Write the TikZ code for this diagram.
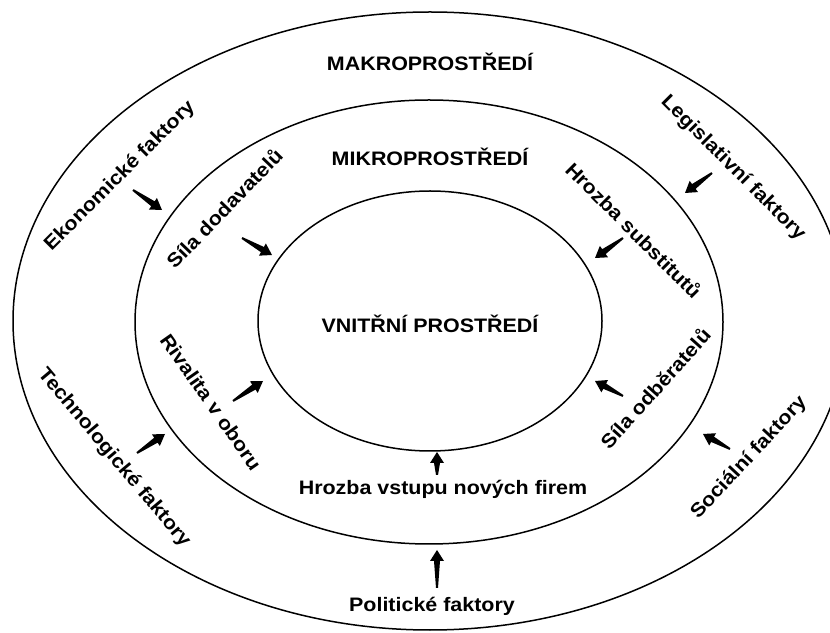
\documentclass[tikz,border=0pt]{standalone}
\usepackage{fontspec}
\setmainfont[FakeStretch=1.1]{Liberation Sans}
\usetikzlibrary{calc}
\tikzset{
  ring/.style={draw=black, line width=1.5pt},
  lbl/.style={font=\fontsize{19.5}{22}\selectfont\bfseries, inner sep=0pt, anchor=center},
}
\newcommand\tarrow[2]{%
  \path ($(#2)!11pt!(#1)$) coordinate (tb);
  \fill ($(#1)!1pt!90:(#2)$) -- ($(tb)!3pt!90:(#2)$) -- ($(tb)!7pt!90:(#2)$) -- (#2)
    -- ($(tb)!7pt!-90:(#2)$) -- ($(tb)!3pt!-90:(#2)$) -- ($(#1)!1pt!-90:(#2)$) -- cycle;}
\begin{document}
\begin{tikzpicture}[x=1pt,y=1pt]
\useasboundingbox (0,0) rectangle (830,632);
\fill[white] (0,0) rectangle (830,632);
\begin{scope}
\clip (0,0) rectangle (830,632);
\draw[ring] (430,311) ellipse [x radius=417, y radius=309];
\end{scope}
\draw[ring] (429,310) ellipse [x radius=294, y radius=222];
\draw[ring] (430,311) ellipse [x radius=172, y radius=130];

\node[lbl] (makro) at (430,570) {MAKROPROSTŘEDÍ};
\node[lbl] (mikro) at (430,475) {MIKROPROSTŘEDÍ};
\node[lbl] (vnitr) at (430,308) {VNITŘNÍ PROSTŘEDÍ};
\node[lbl] (vstup) at (443,143) {Hrozba vstupu nových firem};
\node[lbl] (polit) at (432,26) {Politické faktory};

\node[lbl, rotate=45] (ekon) at (120,456) {Ekonomické faktory};
\node[lbl, rotate=46] (dodav) at (224,424) {Síla dodavatelů};
\node[lbl, rotate=-45] (legis) at (733,464) {Legislativní faktory};
\node[lbl, rotate=-45] (subst) at (634,402) {Hrozba substitutů};
\node[lbl, rotate=-50] (tech) at (114,174) {Technologické faktory};
\node[lbl, rotate=-55] (rival) at (211,230) {Rivalita v oboru};
\node[lbl, rotate=48] (odber) at (655,244) {Síla odběratelů};
\node[lbl, rotate=47] (soc) at (749,174) {Sociální faktory};

\coordinate (a1t) at (133,442); \coordinate (a1h) at (162,422);
\coordinate (a2t) at (242,394); \coordinate (a2h) at (272,377);
\coordinate (a3t) at (712,459); \coordinate (a3h) at (685,439);
\coordinate (a4t) at (623,394); \coordinate (a4h) at (595,374);
\coordinate (a5t) at (137,179); \coordinate (a5h) at (165,198);
\coordinate (a6t) at (233,231); \coordinate (a6h) at (263,251);
\coordinate (a7t) at (623,236); \coordinate (a7h) at (595,251);
\coordinate (a8t) at (730,183); \coordinate (a8h) at (703,198);
\coordinate (a9t) at (437,157); \coordinate (a9h) at (437,180);
\coordinate (a10t) at (437,44); \coordinate (a10h) at (437,82);
\tarrow{a1t}{a1h}
\tarrow{a2t}{a2h}
\tarrow{a3t}{a3h}
\tarrow{a4t}{a4h}
\tarrow{a5t}{a5h}
\tarrow{a6t}{a6h}
\tarrow{a7t}{a7h}
\tarrow{a8t}{a8h}
\tarrow{a9t}{a9h}
\tarrow{a10t}{a10h}
\end{tikzpicture}
\end{document}
